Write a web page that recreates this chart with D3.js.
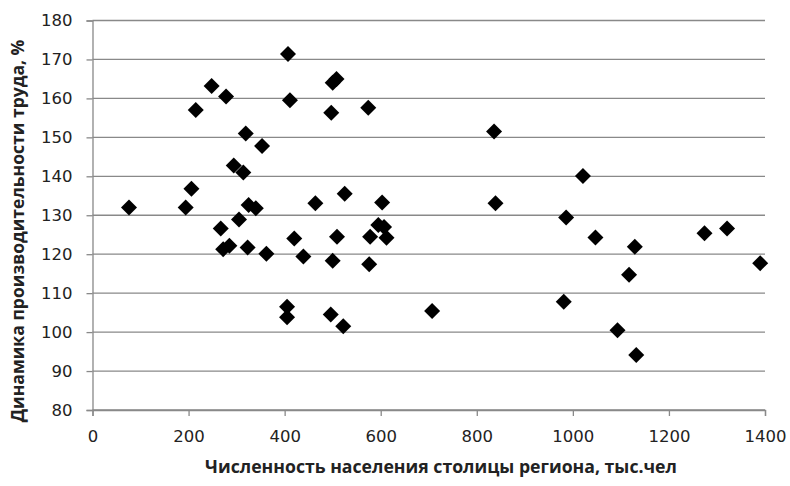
<!DOCTYPE html>
<html>
<head>
<meta charset="utf-8">
<script src="https://cdn.jsdelivr.net/npm/d3@7"></script>
<style>
  html, body { margin: 0; padding: 0; background: #fff; }
  svg { display: block; }
</style>
</head>
<body>
<svg id="chart" width="790" height="486"></svg>
<script>
// Data: population of regional capital (thousand) vs labour productivity dynamics (%)
const population = [
  76, 194, 206, 215, 248, 278, 319, 353, 294, 314,
  267, 305, 325, 340, 272, 285, 323, 362, 407, 411,
  420, 464, 500, 508, 497, 525, 509, 574, 603, 578,
  595, 607, 612, 439, 500, 576, 405, 405, 496, 522,
  836, 839, 1021, 986, 1047, 1129, 1274, 1321, 1390, 1117,
  981, 707, 1093, 1132
];
const productivity = [
  132.0, 132.0, 136.8, 157.0, 163.2, 160.5, 151.0, 147.8, 142.8, 141.0,
  126.6, 128.9, 132.6, 131.8, 121.3, 122.2, 121.7, 120.1, 171.4, 159.5,
  124.0, 133.1, 164.0, 165.0, 156.3, 135.5, 124.5, 157.6, 133.3, 124.5,
  127.5, 127.0, 124.2, 119.4, 118.3, 117.4, 106.5, 103.8, 104.5, 101.5,
  151.5, 133.1, 140.1, 129.4, 124.3, 121.9, 125.4, 126.6, 117.7, 114.7,
  107.8, 105.4, 100.5, 94.1
];
const xTicks = [0, 200, 400, 600, 800, 1000, 1200, 1400];
const yTicks = [80, 90, 100, 110, 120, 130, 140, 150, 160, 170, 180];
const xTitle = "Численность населения столицы региона, тыс.чел";
const yTitle = "Динамика производительности труда, %";

const svg = d3.select("#chart");
const pLeft = 92.5, pRight = 765, pTop = 20.5, pBottom = 410;
const x = d3.scaleLinear().domain([0, 1400]).range([pLeft, pRight]);
const y = d3.scaleLinear().domain([80, 180]).range([pBottom, pTop]);
const gridColor = "#898989";
const labelFont = "'DejaVu Sans', sans-serif";

// horizontal gridlines
svg.append("g").selectAll("line").data(yTicks).join("line")
  .attr("x1", pLeft).attr("x2", pRight)
  .attr("y1", d => y(d)).attr("y2", d => y(d))
  .attr("stroke", gridColor).attr("stroke-width", 1.3);

// Y axis
const yAxis = svg.append("g").attr("transform", `translate(${pLeft},0)`)
  .call(d3.axisLeft(y).tickValues(yTicks).tickSize(6).tickPadding(14).tickFormat(d3.format("d")));
yAxis.select(".domain").attr("stroke", gridColor).attr("stroke-width", 1.3);
yAxis.selectAll(".tick line").attr("stroke", gridColor).attr("stroke-width", 1.3);
yAxis.selectAll(".tick text").attr("font-family", labelFont).attr("font-size", 16.5).attr("fill", "#222");

// X axis
const xAxis = svg.append("g").attr("transform", `translate(0,${pBottom})`)
  .call(d3.axisBottom(x).tickValues(xTicks).tickSize(6).tickPadding(14).tickFormat(d3.format("d")));
xAxis.select(".domain").attr("stroke", gridColor).attr("stroke-width", 1.3);
xAxis.selectAll(".tick line").attr("stroke", gridColor).attr("stroke-width", 1.3);
xAxis.selectAll(".tick text").attr("font-family", labelFont).attr("font-size", 16.5).attr("fill", "#222");

// points (diamonds)
const data = population.map((p, i) => ({ p, v: productivity[i] }));
const r = 8;
const diamond = `M0,${-r}L${r},0L0,${r}L${-r},0Z`;
svg.append("g").selectAll("path").data(data).join("path")
  .attr("d", diamond)
  .attr("transform", d => `translate(${x(d.p)},${y(d.v)})`)
  .attr("fill", "#000");

// titles, fitted to reference widths
function fit(sel, target) {
  const w = sel.node().getComputedTextLength();
  const fs = parseFloat(sel.attr("font-size"));
  sel.attr("font-size", fs * target / w);
}
const xt = svg.append("text")
  .attr("x", 441).attr("y", 473)
  .attr("text-anchor", "middle")
  .attr("font-family", "'Open Sans', sans-serif")
  .attr("font-weight", "bold").attr("font-size", 15).attr("fill", "#222")
  .text(xTitle);
fit(xt, 472);

const yt = svg.append("text")
  .attr("transform", "translate(24,231) rotate(-90)")
  .attr("text-anchor", "middle")
  .attr("font-family", "'Open Sans', sans-serif")
  .attr("font-weight", "bold").attr("font-size", 15).attr("fill", "#222")
  .text(yTitle);
fit(yt, 383);
</script>
</body>
</html>
